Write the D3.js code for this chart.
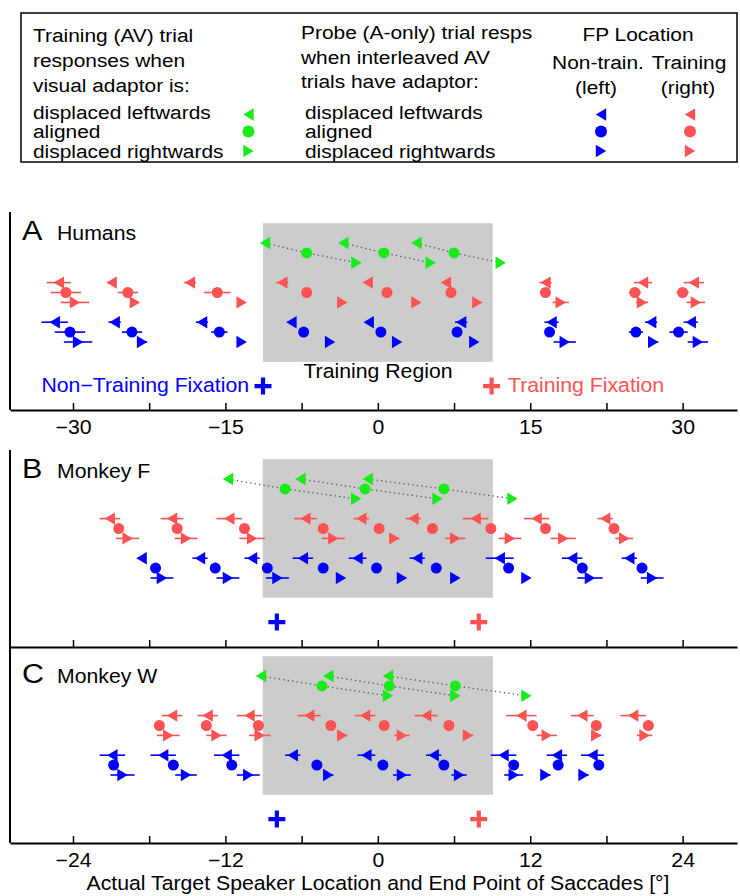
<!DOCTYPE html>
<html><head><meta charset="utf-8">
<script src="https://cdn.jsdelivr.net/npm/d3@7"></script>
<style>body{margin:0;background:#fff} text{font-family:"Liberation Sans",Arial,Helvetica,sans-serif}</style>
</head><body><svg id="c" width="740" height="896"></svg>
<script>
// ---------------- DATA (degrees) ----------------
// Panel A: Humans
const humansTrainL = [-31.4,-26.2,-18.5,-9.4,-1.0,6.7,16.5,26.1,31.1];
const humansTrainLErr = [1.2,0.4,0.6,0.6,0.3,0.3,0.6,0.9,1.0];
const humansTrainC = [-30.7,-24.6,-15.8,-7.0,0.9,7.2,16.5,25.3,30.0];
const humansTrainCErr = [1.5,1.0,1.3,0.3,0.2,0.2,0.3,0.6,0.6];
const humansTrainR = [-29.8,-23.9,-13.4,-3.5,3.8,9.8,18.0,26.0,31.3];
const humansTrainRErr = [1.4,0.3,0.3,0.3,0.3,0.3,0.8,0.6,0.9];
const humansNonL = [-31.8,-25.9,-17.3,-8.5,-0.9,8.2,17.1,26.9,30.8];
const humansNonLErr = [1.3,0.6,0.6,0.4,0.3,0.6,0.7,0.6,0.7];
const humansNonC = [-30.3,-24.2,-15.6,-7.3,0.3,7.8,16.9,25.4,29.6];
const humansNonCErr = [1.5,1.0,0.8,0.3,0.3,0.3,0.4,0.7,0.9];
const humansNonR = [-29.5,-23.2,-13.4,-4.7,1.9,9.5,18.4,27.1,31.5];
const humansNonRErr = [1.4,0.5,0.3,0.3,0.3,0.3,1.1,0.5,1.0];
const humansAVL = [-11.1,-3.4,3.8];
const humansAVC = [-7.0,0.6,7.5];
const humansAVR = [-2.1,5.2,12.1];

// Panel B: Monkey F
const monkFTrainL = [-21.1,-16.2,-11.7,-5.7,-1.3,2.8,7.7,12.5,17.9];
const monkFTrainLErr = [0.8,0.9,1.0,0.9,0.6,0.6,1.0,1.0,0.6];
const monkFTrainC = [-20.4,-15.8,-10.5,-4.3,0.1,4.3,8.9,13.2,18.6];
const monkFTrainCErr = [0.3,0.3,0.3,0.3,0.3,0.3,0.3,0.3,0.3];
const monkFTrainR = [-19.7,-15.1,-9.9,-3.5,1.3,6.1,10.4,14.6,19.4];
const monkFTrainRErr = [0.9,0.9,1.0,0.9,0.4,0.8,0.9,1.0,0.7];
const monkFNonL = [-18.6,-14.0,-9.9,-5.9,-1.6,3.1,9.6,15.3,19.8];
const monkFNonLErr = [0.3,0.6,0.6,0.8,0.7,0.6,1.1,0.8,0.6];
const monkFNonC = [-17.5,-12.8,-8.7,-4.3,-0.1,4.6,10.3,16.1,20.8];
const monkFNonCErr = [0.3,0.3,0.3,0.3,0.3,0.3,0.3,0.3,0.3];
const monkFNonR = [-17.0,-11.8,-7.9,-2.9,1.9,6.1,11.7,16.7,21.6];
const monkFNonRErr = [0.9,0.9,0.9,0.3,0.3,0.3,0.3,1.0,0.9];
const monkFAVL = [-11.8,-6.1,-0.8];
const monkFAVC = [-7.3,-1.0,5.2];
const monkFAVR = [-1.7,4.7,10.6];

// Panel C: Monkey W
const monkWTrainL = [-16.2,-13.4,-10.1,-5.4,-1.0,3.8,11.3,16.1,20.1];
const monkWTrainLErr = [0.8,0.8,1.0,0.9,0.8,0.9,1.2,0.9,1.0];
const monkWTrainC = [-17.2,-13.5,-9.4,-3.7,0.5,5.6,12.2,17.2,21.3];
const monkWTrainCErr = [0.3,0.3,0.3,0.3,0.3,0.3,0.3,0.3,0.3];
const monkWTrainR = [-16.5,-12.7,-9.3,-2.8,1.9,7.1,13.3,17.2,21.0];
const monkWTrainRErr = [0.9,0.8,0.85,0.4,0.6,0.4,0.8,0.4,0.6];
const monkWNonL = [-20.9,-16.9,-11.9,-6.7,-0.9,4.4,9.9,14.1,16.9];
const monkWNonLErr = [1.0,1.0,1.0,0.6,0.7,0.6,1.0,0.8,0.9];
const monkWNonC = [-20.8,-16.1,-11.5,-4.8,0.4,5.2,10.7,14.2,17.4];
const monkWNonCErr = [0.3,0.3,0.3,0.3,0.3,0.3,0.3,0.3,0.3];
const monkWNonR = [-20.1,-15.1,-10.2,-3.9,1.9,6.4,10.7,13.2,16.2];
const monkWNonRErr = [0.95,0.85,0.9,0.4,0.7,0.6,0.75,0.4,0.4];
const monkWAVL = [-9.2,-3.9,0.8];
const monkWAVC = [-4.4,0.9,6.1];
const monkWAVR = [0.8,6.1,11.7];

// axes
const humansTicks = [-30,-22.5,-15,-7.5,0,7.5,15,22.5,30];
const humansTickLabels = ["−30","","−15","","0","","15","","30"];
const monkTicks = [-24,-18,-12,-6,0,6,12,18,24];
const monkTickLabels = ["−24","","−12","","0","","12","","24"];
const humansDomain = [-36.2,35.35];
const monkDomain = [-28.96,28.28];
const humansRegion = [-11.3,11.3];
const monkRegion = [-9.06,9.06];
const humansFix = [-11.3,11.2];
const monkFix = [-7.95,7.95];

// ---------------- DRAW ----------------
const svg = d3.select("#c");
const RED = "#ff5252", BLUE = "#0000ff", GREEN = "#18ec18", GRAY = "#cccccc";
const FS = 19.5, SX = 1.09;
const SW = 5.2, SH = 6.2;

function T(g, x, y, s, size, opt={}){
  const t = g.append("text").attr("transform",`translate(${x},${y}) scale(${opt.sx||SX},1)`)
    .attr("font-size",size).attr("text-anchor",opt.anchor||"start").attr("fill",opt.fill||"#000").text(s);
  return t;
}
function marker(g, kind, x, y, color, r=5.6){
  if(kind==="C"){
    g.append("circle").attr("cx",x).attr("cy",y).attr("r",r).attr("fill",color);
  } else {
    const p = kind==="L" ? `M${-SW},0L${SW},${-SH}L${SW},${SH}Z` : `M${SW},0L${-SW},${-SH}L${-SW},${SH}Z`;
    g.append("path").attr("d",p).attr("transform",`translate(${x},${y})`).attr("fill",color);
  }
}

const panels = [
  {key:"A", title:"Humans", domain:humansDomain, ticks:humansTicks, labels:humansTickLabels, region:humansRegion, fix:humansFix,
   base:243, axisY:410, leftTop:212, leftBot:410, showLabels:true,
   train:[humansTrainL,humansTrainC,humansTrainR], trainErr:[humansTrainLErr,humansTrainCErr,humansTrainRErr],
   non:[humansNonL,humansNonC,humansNonR], nonErr:[humansNonLErr,humansNonCErr,humansNonRErr],
   av:[humansAVL,humansAVC,humansAVR], titleY:240},
  {key:"B", title:"Monkey F", domain:monkDomain, ticks:monkTicks, labels:monkTickLabels, region:monkRegion, fix:monkFix,
   base:479, axisY:647, leftTop:450, leftBot:647, showLabels:false,
   train:[monkFTrainL,monkFTrainC,monkFTrainR], trainErr:[monkFTrainLErr,monkFTrainCErr,monkFTrainRErr],
   non:[monkFNonL,monkFNonC,monkFNonR], nonErr:[monkFNonLErr,monkFNonCErr,monkFNonRErr],
   av:[monkFAVL,monkFAVC,monkFAVR], titleY:478},
  {key:"C", title:"Monkey W", domain:monkDomain, ticks:monkTicks, labels:monkTickLabels, region:monkRegion, fix:monkFix,
   base:676, axisY:843, leftTop:647, leftBot:843, showLabels:true,
   train:[monkWTrainL,monkWTrainC,monkWTrainR], trainErr:[monkWTrainLErr,monkWTrainCErr,monkWTrainRErr],
   non:[monkWNonL,monkWNonC,monkWNonR], nonErr:[monkWNonLErr,monkWNonCErr,monkWNonRErr],
   av:[monkWAVL,monkWAVC,monkWAVR], titleY:683}
];

const kinds = ["L","C","R"];
panels.forEach(p => {
  const g = svg.append("g");
  const x = d3.scaleLinear().domain(p.domain).range([10,737]);
  const y = d3.scaleLinear().domain([0,10]).range([p.base, p.base+99]);
  // training region
  g.append("rect").attr("x",x(p.region[0])).attr("y",y(-2))
    .attr("width",x(p.region[1])-x(p.region[0])).attr("height",y(12)-y(-2)).attr("fill",GRAY);
  // AV dotted connectors
  for(let i=0;i<3;i++){
    const pts = [[p.av[0][i],0],[p.av[1][i],1],[p.av[2][i],2]];
    g.append("path").attr("d", d3.line().x(d=>x(d[0])).y(d=>y(d[1]))(pts))
      .attr("fill","none").attr("stroke","#555").attr("stroke-width",1.3).attr("stroke-dasharray","1.3,3.2");
  }
  // rows
  const rows = [];
  kinds.forEach((k,j)=>rows.push({vals:p.av[j], err:null, level:j, kind:k, color:GREEN}));
  kinds.forEach((k,j)=>rows.push({vals:p.train[j], err:p.trainErr[j], level:4+j, kind:k, color:RED}));
  kinds.forEach((k,j)=>rows.push({vals:p.non[j], err:p.nonErr[j], level:8+j, kind:k, color:BLUE}));
  rows.forEach(r=>{
    r.vals.forEach((v,i)=>{
      if(r.err){
        g.append("line").attr("x1",x(v-r.err[i])).attr("x2",x(v+r.err[i]))
          .attr("y1",y(r.level)).attr("y2",y(r.level)).attr("stroke",r.color).attr("stroke-width",1.6);
      }
      marker(g, r.kind, x(v), y(r.level), r.color, 5.5);
    });
  });
  // fixation crosses
  [[p.fix[0],BLUE],[p.fix[1],RED]].forEach(([fx,c])=>{
    const cx = x(fx), cy = y(14.45);
    g.append("path").attr("d",`M${cx-8.5},${cy}H${cx+8.5}M${cx},${cy-8.5}V${cy+8.5}`)
      .attr("stroke",c).attr("stroke-width",4.2).attr("fill","none");
  });
  // axes
  const ax = d3.axisBottom(x).tickValues(p.ticks).tickSizeInner(-7).tickSizeOuter(0).tickPadding(10.5)
    .tickFormat((d,i)=> p.showLabels ? p.labels[i] : "");
  const ag = g.append("g").attr("transform",`translate(0,${p.axisY})`).call(ax);
  ag.select(".domain").attr("stroke","#000").attr("stroke-width",2);
  ag.selectAll(".tick line").attr("stroke","#000").attr("stroke-width",1.5);
  ag.selectAll(".tick text").attr("fill","#000").attr("transform",`scale(${SX},1)`)
    .style("font-size",FS+"px").style("font-family",'"Liberation Sans",Arial,sans-serif');
  g.append("line").attr("x1",10).attr("x2",10).attr("y1",p.leftTop).attr("y2",p.leftBot)
    .attr("stroke","#000").attr("stroke-width",2);
  // labels
  T(g, 22, p.titleY, p.key, 28);
  T(g, 57, p.titleY, p.title, FS);
  if(p.key==="A"){
    T(g, 378, 378, "Training Region", FS, {anchor:"middle"});
    T(g, 249, 392, "Non−Training Fixation", FS, {anchor:"end", fill:BLUE});
    T(g, 508, 392, "Training Fixation", FS, {fill:RED});
  }
});

T(svg, 378, 890, "Actual Target Speaker Location and End Point of Saccades [°]", FS, {anchor:"middle"});

// ---------------- LEGEND ----------------
const lg = svg.append("g");
lg.append("rect").attr("x",21).attr("y",13).attr("width",716).attr("height",149)
  .attr("fill","none").attr("stroke","#000").attr("stroke-width",1.5);
const LFS = 19, LSX = 1.1;
const leg1 = ["Training (AV) trial","responses when","visual adaptor is:"];
const leg2 = ["Probe (A-only) trial resps","when interleaved AV","trials have adaptor:"];
const legRows = ["displaced leftwards","aligned","displaced rightwards"];
const hdrY = [42,67,92], hdr2Y = [39,64,88], rowY = [119,138,158], mY = [114.5,131.5,151];
leg1.forEach((t,i)=>T(lg, 33, hdrY[i], t, LFS, {sx:LSX}));
leg2.forEach((t,i)=>T(lg, 301, hdr2Y[i], t, LFS, {sx:LSX}));
legRows.forEach((t,i)=>{
  T(lg, 33, rowY[i], t, LFS, {sx:LSX});
  T(lg, 305, rowY[i], t, LFS, {sx:LSX});
  marker(lg, kinds[i], 248.5, mY[i], GREEN, 6);
  marker(lg, kinds[i], 601, mY[i], BLUE, 6);
  marker(lg, kinds[i], 690, mY[i], RED, 6);
});
T(lg, 638, 41, "FP Location", LFS, {anchor:"middle", sx:LSX});
T(lg, 598, 69, "Non-train.", LFS, {anchor:"middle", sx:LSX});
T(lg, 689, 69, "Training", LFS, {anchor:"middle", sx:LSX});
T(lg, 596, 94, "(left)", LFS, {anchor:"middle", sx:LSX});
T(lg, 688, 94, "(right)", LFS, {anchor:"middle", sx:LSX});
</script></body></html>
